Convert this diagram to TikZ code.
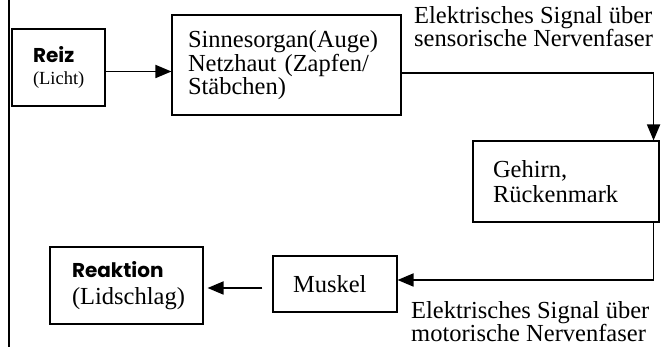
\documentclass[tikz,border=0pt]{standalone}
\usepackage{fontspec}
\setmainfont{Liberation Serif}
\newfontfamily\comicfont{Poppins}
\usetikzlibrary{arrows.meta,positioning}

\begin{document}
\begin{tikzpicture}[
  x=1pt, y=-1pt,
  box/.style={draw, line width=1.1pt, align=left, inner ysep=0pt,
              font=\fontsize{24.5}{22}\selectfont},
  lbl/.style={align=left, inner sep=0pt, font=\fontsize{24.5}{21}\selectfont},
  arr/.style={-{Triangle[length=16pt,width=13pt]}, line width=1.8pt}
]
\useasboundingbox (0,0) rectangle (664,347);
\draw[line width=2pt] (9,0) -- (9,347);

\node[box, text width=51pt, inner xsep=21pt, minimum height=77pt]
  (reiz) at (58.5,67.5)
  {{\comicfont\bfseries\fontsize{20}{22}\selectfont Reiz}\\
   {\fontsize{18.5}{20}\selectfont (Licht)}};
\node[box, text width=197pt, inner xsep=16pt, minimum height=100pt]
  (sinn) at (286.5,65) {Sinnesorgan(Auge)\\Netzhaut (Zapfen/\\St\"abchen)};
\node[box, text width=146pt, inner xsep=20pt, minimum height=81pt]
  (gehirn) at (566,181.5) {Gehirn,\\[3pt]R\"uckenmark};
\node[box, text width=84pt, inner xsep=20pt, minimum height=56pt]
  (muskel) at (335,284) {Muskel};
\node[box, text width=109pt, inner xsep=22pt, minimum height=77pt]
  (reaktion) at (126.5,285.5)
  {{\comicfont\bfseries\fontsize{20}{22}\selectfont Reaktion}\\[5pt](Lidschlag)};

\node[lbl, anchor=north west] (sens) at (414,6)
  {Elektrisches Signal \"uber\\sensorische Nervenfaser};
\node[lbl, anchor=north west] (mot) at (411,301)
  {Elektrisches Signal \"uber\\motorische Nervenfaser};

\draw[arr] ([yshift=-4pt]reiz.east) -- ([yshift=-4pt]reiz.east -| sinn.west);
\draw[arr] ([yshift=-8pt]sinn.east) -| ([xshift=-6pt]gehirn.north east);
\draw[arr] ([xshift=-6pt]gehirn.south east) |- ([yshift=4pt]muskel.east);
\draw[arr, shorten <=10pt, shorten >=4pt] ([yshift=-4pt]muskel.west)
  -- ([yshift=-4pt]muskel.west -| reaktion.east);
\end{tikzpicture}
\end{document}
